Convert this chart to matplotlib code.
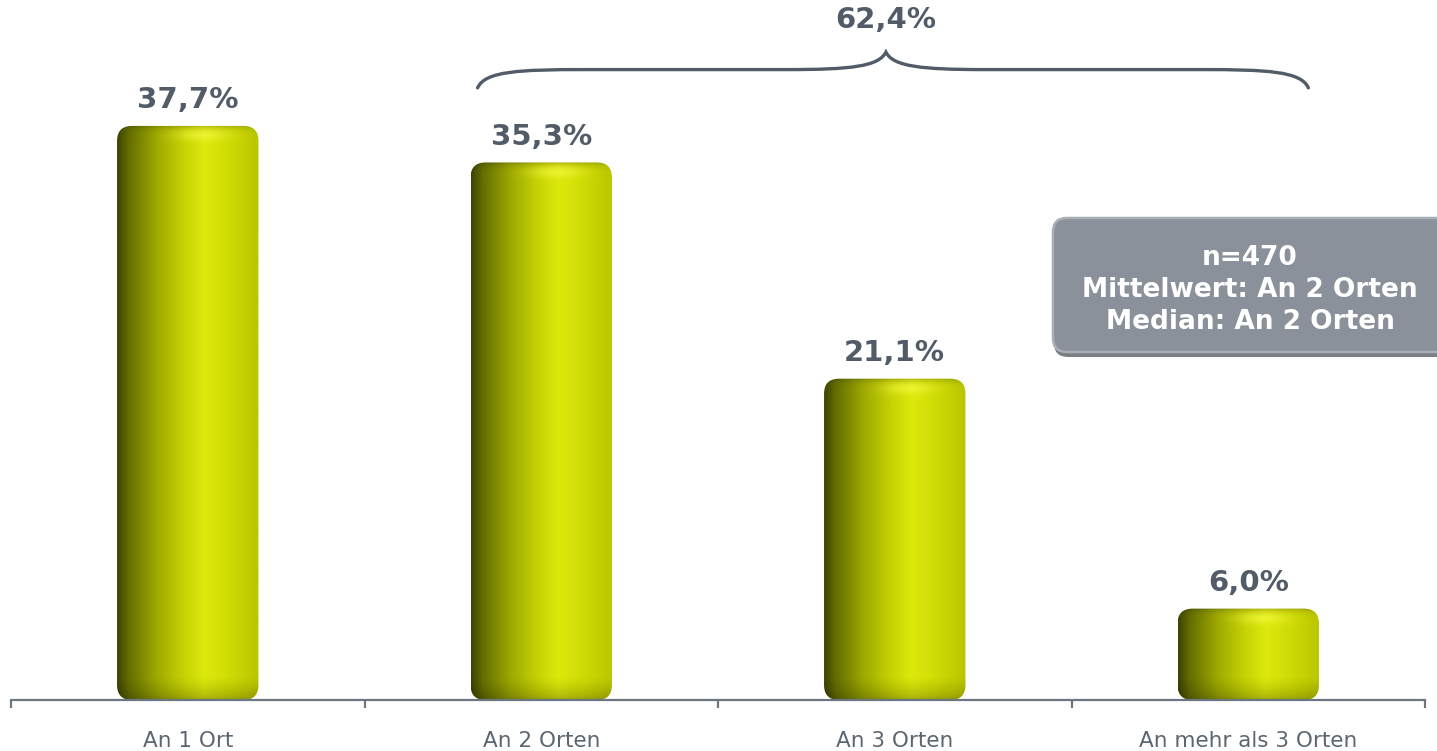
import numpy as np
import matplotlib
matplotlib.use("Agg")
import matplotlib.pyplot as plt
from matplotlib.patches import FancyBboxPatch, PathPatch
from matplotlib.path import Path

# data
categories = ["An 1 Ort", "An 2 Orten", "An 3 Orten", "An mehr als 3 Orten"]
values = [37.7, 35.3, 21.1, 6.0]
value_labels = ["37,7%", "35,3%", "21,1%", "6,0%"]
info_lines = ["n=470", "Mittelwert: An 2 Orten", "Median: An 2 Orten"]
brace_first, brace_last = 1, 3  # bracket spans these categories

label_col = "#515c68"
axis_col = "#6d7781"
bar_w = 0.4


def bar_image(h_px, w_px):
    # cylinder-like shading: dark left edge, bright band right of centre
    t = np.linspace(0, 1, w_px)
    stops = [0, .08, .28, .48, .62, .8, 1]
    cols = np.array([[62, 68, 0], [100, 110, 0], [158, 170, 0], [200, 212, 4],
                     [221, 233, 12], [206, 218, 4], [186, 198, 0]]) / 255
    row = np.stack([np.interp(t, stops, cols[:, k]) for k in range(3)], axis=1)
    img = np.repeat(row[None, :, :], h_px, axis=0)
    d = np.arange(h_px)[:, None].astype(float)
    b = h_px - 1 - d
    # top highlight
    hl = np.exp(-((d - 9) / 6) ** 2) * np.exp(-((t[None, :] - 0.6) / 0.18) ** 2) * 0.55
    img = img + hl[:, :, None] * (np.array([1, 1, 0.3]) - img)
    # cap edge
    img = img * (1 - 0.22 * np.exp(-d / 3))[:, :, None]
    # bottom shading
    fac = np.where(b < 22, 0.72 + 0.28 * np.clip(b / 22, 0, 1) ** 0.6, 1.0)
    img = img * fac[:, :, None]
    return np.clip(img, 0, 1)


fig = plt.figure(figsize=(14.37, 7.51), dpi=100)
ax = fig.add_axes([11 / 1437, 51 / 751, 1414 / 1437, 700 / 751])
ax.set_xlim(-0.5, 3.5)
ax.set_ylim(0, 45.97)

# pixel scale of the data units, for round corners
p0 = ax.transData.transform((0, 0))
p1 = ax.transData.transform((1, 1))
px_x, px_y = p1[0] - p0[0], p1[1] - p0[1]
radius_px = 15
rx = radius_px / px_x
aspect = (radius_px / px_y) / rx

for i, v in enumerate(values):
    x0 = i - bar_w / 2
    patch = FancyBboxPatch((x0, 0), bar_w, v,
                           boxstyle=f"round,pad=0,rounding_size={rx}",
                           mutation_aspect=aspect, facecolor="none",
                           edgecolor="none", zorder=2)
    ax.add_patch(patch)
    img = bar_image(int(round(v * px_y)), int(round(bar_w * px_x)))
    im = ax.imshow(img, extent=(x0, x0 + bar_w, 0, v), aspect="auto",
                   interpolation="bilinear", zorder=2)
    im.set_clip_path(patch)
    ax.text(i, v + 1.7, value_labels[i], ha="center", va="center",
            fontsize=21, fontweight="bold", color=label_col)

ax.set_xlim(-0.5, 3.5)
ax.set_ylim(0, 45.97)

# bracket over categories 2..4
xl = brace_first - bar_w / 2 + 0.02
xr = brace_last + bar_w / 2 - 0.03
xm = (xl + xr) / 2 - 0.02
y_end = max(values) + 2.5
y_h = y_end + 1.2
y_tip = y_h + 1.15
verts = [
    (xl, y_end), (xl + 0.02, y_h - 0.1), (xl + 0.12, y_h), (xl + 0.3, y_h),
    (xm - 0.28, y_h),
    (xm - 0.1, y_h), (xm - 0.02, y_h + 0.2), (xm, y_tip),
    (xm + 0.02, y_h + 0.2), (xm + 0.1, y_h), (xm + 0.28, y_h),
    (xr - 0.3, y_h),
    (xr - 0.12, y_h), (xr - 0.02, y_h - 0.1), (xr, y_end),
]
codes = [Path.MOVETO, Path.CURVE4, Path.CURVE4, Path.CURVE4,
         Path.LINETO,
         Path.CURVE4, Path.CURVE4, Path.CURVE4,
         Path.CURVE4, Path.CURVE4, Path.CURVE4,
         Path.LINETO,
         Path.CURVE4, Path.CURVE4, Path.CURVE4]
ax.add_patch(PathPatch(Path(verts, codes), facecolor="none", edgecolor=label_col,
                       linewidth=2.4, capstyle="round", clip_on=False))
brace_label = f"{sum(values[brace_first:brace_last + 1]):.1f}%".replace(".", ",")
ax.text(xm, y_tip + 2.1, brace_label, ha="center", va="center",
        fontsize=21, fontweight="bold", color=label_col, clip_on=False)

# axis
for s in ["top", "right", "left"]:
    ax.spines[s].set_visible(False)
ax.spines["bottom"].set_color(axis_col)
ax.spines["bottom"].set_linewidth(1.6)
ax.set_yticks([])
ax.set_xticks(np.arange(len(categories) + 1) - 0.5)
ax.set_xticklabels([])
ax.set_xticks(np.arange(len(categories)), minor=True)
ax.set_xticklabels(categories, minor=True, fontsize=15.5, color="#5b6670")
ax.tick_params(axis="x", which="major", direction="out", length=6,
               width=1.6, color=axis_col)
ax.tick_params(axis="x", which="minor", length=0, pad=22)

# info box
shadow = FancyBboxPatch((10.54, 3.94), 4.1, 1.36,
                        boxstyle="round,pad=0,rounding_size=0.14",
                        transform=fig.dpi_scale_trans, facecolor="#4f545b",
                        edgecolor="none", alpha=0.75, zorder=3)
box = FancyBboxPatch((10.53, 3.99), 4.1, 1.34,
                     boxstyle="round,pad=0,rounding_size=0.14",
                     transform=fig.dpi_scale_trans, facecolor="#8a919b",
                     edgecolor="#a9afb7", linewidth=1.8, zorder=4)
fig.add_artist(shadow)
fig.add_artist(box)
fig.text(12.50, 4.61, "\n".join(info_lines), transform=fig.dpi_scale_trans,
         ha="center", va="center", fontsize=19, fontweight="bold",
         color="white", linespacing=1.3, zorder=5)

fig.savefig("out.png", dpi=100)
